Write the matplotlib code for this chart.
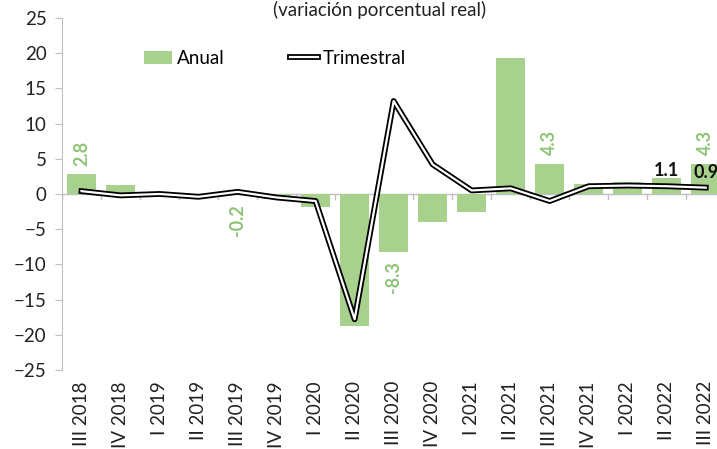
import matplotlib
matplotlib.use("Agg")
import matplotlib.pyplot as plt
import matplotlib.patheffects as pe
import numpy as np

plt.rcParams['font.family'] = ['Lato', 'DejaVu Sans']

quarters = ["III 2018", "IV 2018", "I 2019", "II 2019", "III 2019", "IV 2019",
            "I 2020", "II 2020", "III 2020", "IV 2020", "I 2021", "II 2021",
            "III 2021", "IV 2021", "I 2022", "II 2022", "III 2022"]
anual = [2.8, 1.3, 0.3, -0.1, -0.2, -0.7, -1.8, -18.8, -8.3, -4.0, -2.6, 19.3,
         4.3, 1.4, 1.7, 2.2, 4.3]
trimestral = [0.4, -0.2, 0.0, -0.4, 0.3, -0.5, -1.0, -17.8, 13.2, 4.2, 0.5, 0.8,
              -1.0, 1.1, 1.2, 1.1, 0.9]
anual_labels = {0: "2.8", 4: "-0.2", 8: "-8.3", 12: "4.3", 16: "4.3"}
trim_labels = {15: "1.1", 16: "0.9"}

green = "#a9d18e"
label_green = "#8fc475"

fig = plt.figure(figsize=(7.17, 4.49), dpi=100)
ax = fig.add_axes([0.0865, 0.176, 0.925, 0.784])
x = np.arange(len(quarters))

bars = ax.bar(x, anual, width=0.74, color=green, label="Anual", zorder=2)
line, = ax.plot(x, trimestral, color="white", lw=1.6, zorder=3, label="Trimestral",
                path_effects=[pe.Stroke(linewidth=4.2, foreground="black"), pe.Normal()])

ax.set_xlim(-0.5, len(quarters) - 0.5)
ax.set_ylim(-25, 25)
ax.set_yticks(np.arange(-25, 26, 5))
ax.set_xticks(x)
ax.set_xticklabels(quarters, rotation=90, fontsize=13.5, color="#222222")
ax.tick_params(axis="x", length=0, pad=8)
ax.tick_params(axis="y", length=5, color="#bfbfbf", labelsize=13.5, labelcolor="#222222", pad=6)

for s in ["top", "right", "bottom"]:
    ax.spines[s].set_visible(False)
ax.spines["left"].set_color("#bfbfbf")

# zero line with category tick marks
ax.axhline(0, color="#bfbfbf", lw=1, zorder=1)
for b in np.arange(-0.5, len(quarters), 1.0):
    ax.plot([b, b], [0, -0.7], color="#bfbfbf", lw=1, zorder=1)

for i, t in anual_labels.items():
    v = anual[i]
    if v >= 0:
        ax.text(i, v + 1.2, t, rotation=90, ha="center", va="bottom",
                fontsize=13, color=label_green, fontweight="bold")
    else:
        ax.text(i, v - 1.2, t, rotation=90, ha="center", va="top",
                fontsize=13, color=label_green, fontweight="bold")

for i, t in trim_labels.items():
    ax.text(i, trimestral[i] + 1.0, t, ha="center", va="bottom",
            fontsize=13, color="#111111", fontweight="bold")

ax.legend([bars, line], ["Anual", "Trimestral"], loc="center left",
          bbox_to_anchor=(0.098, 0.885), ncol=2, frameon=False,
          fontsize=13.5, handlelength=1.5, handletextpad=0.25, columnspacing=3.5)

fig.text(0.53, 1 - 16 / 449, "(variación porcentual real)", ha="center",
         va="baseline", fontsize=13.5, color="#222222")

fig.savefig("out.png", dpi=100)
